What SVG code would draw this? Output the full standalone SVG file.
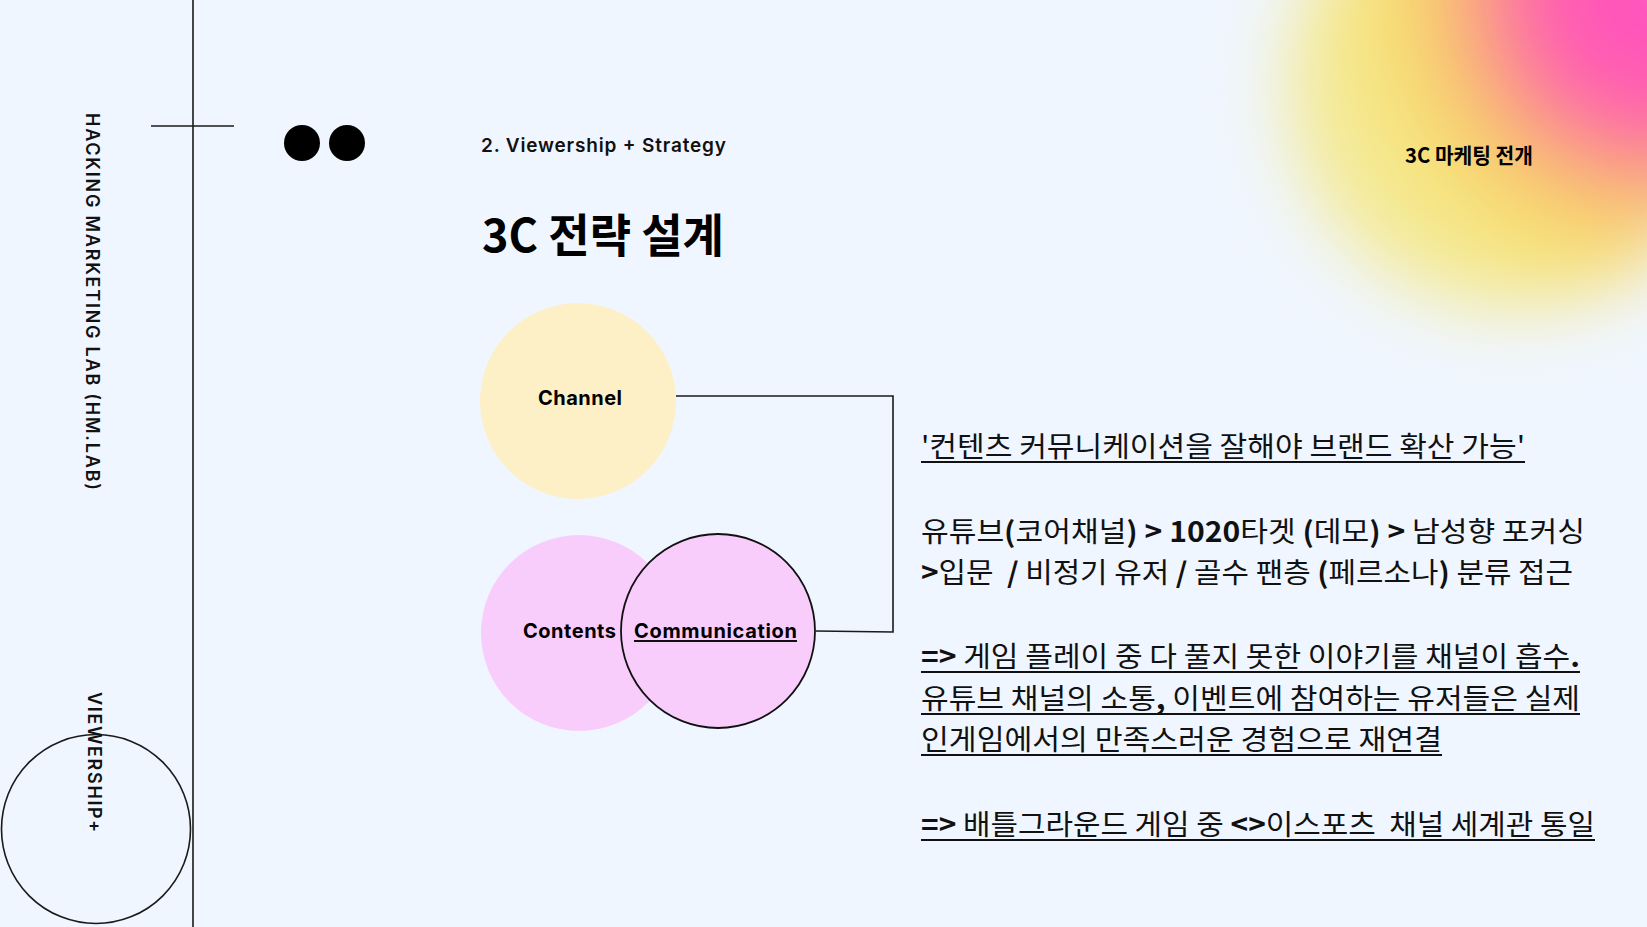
<svg xmlns="http://www.w3.org/2000/svg" width="1647" height="927" viewBox="0 0 1647 927">
  <defs>
    <radialGradient id="blobFill" gradientUnits="userSpaceOnUse" cx="1660" cy="-10" r="330">
      <stop offset="0" stop-color="#ff4cc4"/>
      <stop offset="0.38" stop-color="#ff60ae"/>
      <stop offset="0.55" stop-color="#f99a7e"/>
      <stop offset="0.7" stop-color="#f8cf70"/>
      <stop offset="0.84" stop-color="#f7e070"/>
      <stop offset="1" stop-color="#f4ea95"/>
    </radialGradient>
    <filter id="soft" x="-50%" y="-50%" width="200%" height="200%">
      <feGaussianBlur stdDeviation="36"/>
    </filter>
    <style>
      .line{stroke:#1a1a1a;stroke-width:1.6;fill:none}
      .ul{stroke:#111;stroke-width:2}
      .side{font-family:Inter,"Liberation Sans",sans-serif;font-weight:600;font-size:18px;fill:#111}
      .lbl{font-family:Inter,"Liberation Sans",sans-serif;font-weight:700;font-size:20px;fill:#000}
      .kr{font-family:"Noto Sans CJK KR",sans-serif;font-size:28px;fill:#111;white-space:pre}
      .b{font-weight:700}
    </style>
  </defs>
  <rect width="1647" height="927" fill="#f0f6ff"/>
  <circle cx="1512" cy="85" r="225" fill="url(#blobFill)" filter="url(#soft)"/>

  <g id="frame">
    <line class="line" x1="193" y1="0" x2="193" y2="927"/>
    <line class="line" x1="151" y1="126" x2="234" y2="126"/>
    <circle class="line" cx="96" cy="829" r="94.5"/>
    <circle cx="302" cy="143" r="18" fill="#000"/>
    <circle cx="347" cy="143" r="18" fill="#000"/>
    <text class="side" transform="translate(86,113) rotate(90)" textLength="377">HACKING MARKETING LAB (HM.LAB)</text>
    <text class="side" transform="translate(88,692) rotate(90)" textLength="140">VIEWERSHIP+</text>
  </g>

  <g id="header">
    <text x="481" y="152" font-family="Inter,'Liberation Sans',sans-serif" font-weight="600" font-size="19" fill="#111" textLength="245">2. Viewership + Strategy</text>
    <text x="482" y="252" font-family="'Noto Sans CJK KR',sans-serif" font-weight="700" font-size="46" fill="#000" textLength="242" lengthAdjust="spacingAndGlyphs">3C 전략 설계</text>
    <text x="1405" y="163" font-family="'Noto Sans CJK KR',sans-serif" font-weight="700" font-size="21" fill="#000" textLength="128" lengthAdjust="spacingAndGlyphs">3C 마케팅 전개</text>
  </g>

  <g id="connectors">
    <polyline class="line" points="676,396 893,396 893,632 816,631"/>
  </g>

  <g id="channel">
    <circle cx="578" cy="401" r="98" fill="#fdf0c6"/>
    <text class="lbl" x="580" y="405" text-anchor="middle" textLength="84">Channel</text>
  </g>
  <g id="contents">
    <circle cx="579" cy="633" r="98" fill="#f9cdfb"/>
    <text class="lbl" x="616" y="638" text-anchor="end" textLength="93">Contents</text>
  </g>
  <g id="communication">
    <circle cx="718" cy="631" r="97" fill="#f9cdfb" stroke="#111" stroke-width="1.8"/>
    <text class="lbl" x="634" y="638" textLength="163">Communication</text>
    <line class="ul" x1="634" y1="641" x2="797" y2="641" stroke-width="1.6"/>
  </g>

  <g id="notes">
    <text class="kr" x="921" y="457" textLength="604" lengthAdjust="spacingAndGlyphs">'컨텐츠 커뮤니케이션을 잘해야 브랜드 확산 가능'</text>
    <line class="ul" x1="921" y1="462" x2="1525" y2="462"/>
    <text class="kr" x="921" y="542" textLength="664" lengthAdjust="spacingAndGlyphs">유튜브<tspan class="b">(</tspan>코어채널<tspan class="b">) &gt; 1020</tspan>타겟 <tspan class="b">(</tspan>데모<tspan class="b">) &gt;</tspan> 남성향 포커싱</text>
    <text class="kr" x="921" y="583" textLength="652" lengthAdjust="spacingAndGlyphs"><tspan class="b">&gt;</tspan>입문  <tspan class="b">/</tspan> 비정기 유저 <tspan class="b">/</tspan> 골수 팬층 <tspan class="b">(</tspan>페르소나<tspan class="b">)</tspan> 분류 접근</text>
    <text class="kr" x="921" y="667" textLength="659" lengthAdjust="spacingAndGlyphs"><tspan class="b">=&gt;</tspan> 게임 플레이 중 다 풀지 못한 이야기를 채널이 흡수<tspan class="b">.</tspan></text>
    <line class="ul" x1="921" y1="672" x2="1580" y2="672"/>
    <text class="kr" x="921" y="709" textLength="659" lengthAdjust="spacingAndGlyphs">유튜브 채널의 소통<tspan class="b">,</tspan> 이벤트에 참여하는 유저들은 실제</text>
    <line class="ul" x1="921" y1="714" x2="1580" y2="714"/>
    <text class="kr" x="921" y="750" textLength="521" lengthAdjust="spacingAndGlyphs">인게임에서의 만족스러운 경험으로 재연결</text>
    <line class="ul" x1="921" y1="755" x2="1442" y2="755"/>
    <text class="kr" x="921" y="835" textLength="674" lengthAdjust="spacingAndGlyphs"><tspan class="b">=&gt;</tspan> 배틀그라운드 게임 중 <tspan class="b">&lt;&gt;</tspan>이스포츠  채널 세계관 통일</text>
    <line class="ul" x1="921" y1="840" x2="1595" y2="840"/>
  </g>
</svg>
